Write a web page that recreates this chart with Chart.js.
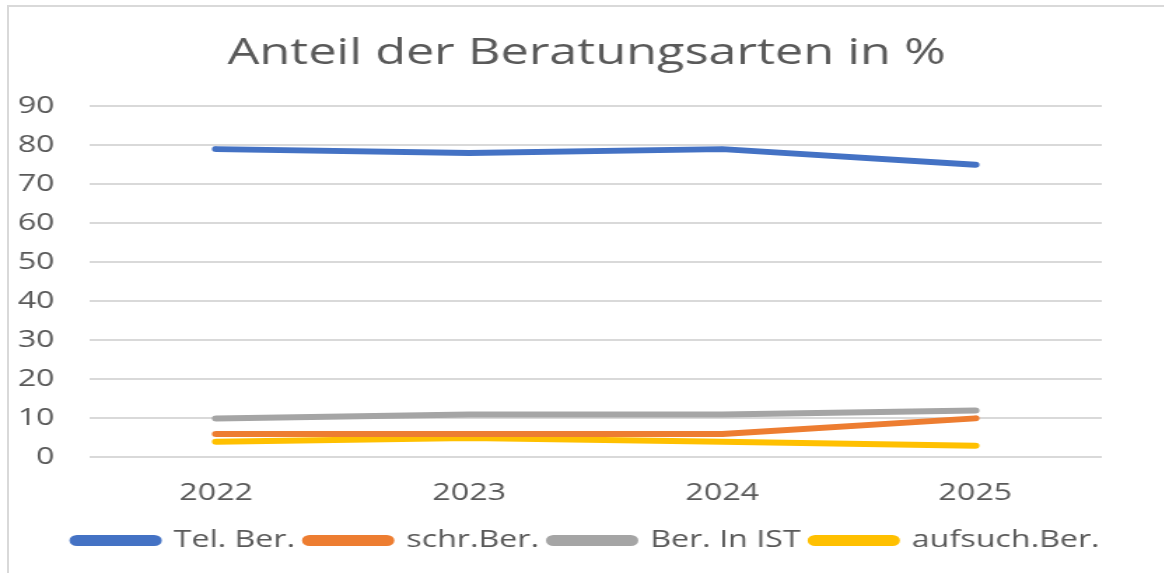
<!DOCTYPE html>
<html><head><meta charset="utf-8">
<script src="https://cdn.jsdelivr.net/npm/chart.js@4.4.1/dist/chart.umd.min.js"></script>
<style>
html,body{margin:0;padding:0;background:#fff;overflow:hidden;}
#wrap{position:absolute;left:0;top:0;width:1164px;height:573px;}
#frame{position:absolute;left:7px;top:5px;width:1160px;height:570px;border-left:2px solid #d9d9d9;border-top:2px solid #d9d9d9;box-sizing:border-box;}
#stage{position:absolute;left:0;top:0;width:831px;height:573px;transform:scaleX(1.4);transform-origin:0 0;}
</style></head>
<body>
<div id="wrap"><div id="frame"></div><div id="stage"><canvas id="c" width="831" height="573"></canvas></div></div>
<script>
const categories = ["2022", "2023", "2024", "2025"];
const telBer = [79, 78, 79, 75];
const schrBer = [6, 6, 6, 10];
const berInIst = [10, 11, 11, 12];
const aufsuchBer = [4, 5, 4, 3];
const seriesNames = ["Tel. Ber.", "schr.Ber.", "Ber. In IST", "aufsuch.Ber."];
const seriesColors = ["#4472C4", "#ED7D31", "#A5A5A5", "#FFC000"];
const yTicks = [0, 10, 20, 30, 40, 50, 60, 70, 80, 90];

const FONT = "'Open Sans', sans-serif";
const values = [telBer, schrBer, berInIst, aufsuchBer];
const datasets = values.map((v, i) => ({
  label: seriesNames[i],
  data: v,
  borderColor: seriesColors[i],
  backgroundColor: seriesColors[i],
  borderWidth: 6,
  borderCapStyle: 'round',
  borderJoinStyle: 'round',
  pointRadius: 0,
  pointHoverRadius: 0,
  tension: 0
}));

new Chart(document.getElementById('c'), {
  type: 'line',
  data: { labels: categories, datasets: datasets },
  options: {
    responsive: false,
    animation: false,
    devicePixelRatio: 1,
    layout: { padding: { left: 7, right: 0, top: 0, bottom: 11 } },
    plugins: {
      tooltip: { enabled: false },
      title: {
        display: true,
        text: 'Anteil der Beratungsarten in %',
        color: '#595959',
        font: { family: FONT, size: 36, weight: 'normal' },
        padding: { top: 32, bottom: 31 }
      },
      legend: {
        position: 'bottom',
        labels: {
          color: '#595959',
          font: { family: FONT, size: 23 },
          boxWidth: 60,
          boxHeight: 5,
          useBorderRadius: true,
          borderRadius: 2.5,
          padding: 8
        }
      }
    },
    scales: {
      x: {
        offset: true,
        grid: { display: false },
        border: { display: false },
        ticks: { color: '#595959', font: { family: FONT, size: 23 }, padding: 14 }
      },
      y: {
        min: 0, max: 90,
        afterBuildTicks: (s) => { s.ticks = yTicks.map(v => ({ value: v })); },
        afterFit: (s) => { s.width = 57; },
        grid: { color: '#d9d9d9', lineWidth: 2, drawTicks: false },
        border: { display: false },
        ticks: { color: '#595959', font: { family: FONT, size: 23 }, padding: 25 }
      },
      yRight: {
        position: 'right',
        display: true,
        grid: { display: false, drawTicks: false },
        border: { display: false },
        ticks: { display: false },
        afterFit: (s) => { s.width = 44; }
      }
    }
  }
});
</script>
</body></html>
